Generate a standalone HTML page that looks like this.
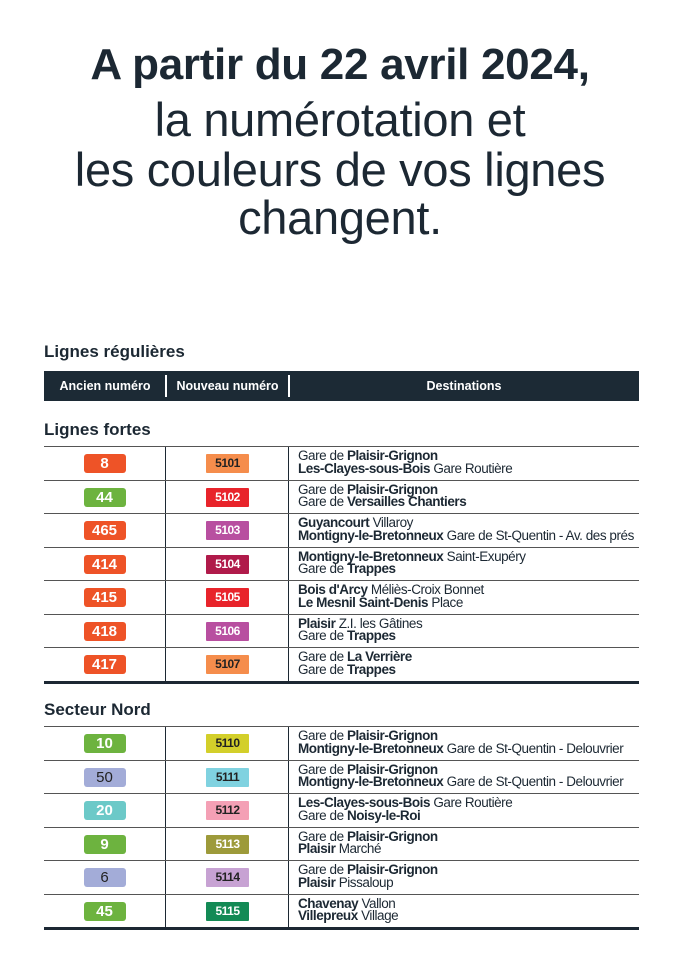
<!DOCTYPE html>
<html><head><meta charset="utf-8"><style>
*{margin:0;padding:0;box-sizing:border-box}
body{width:680px;height:968px;background:#fff;font-family:"Liberation Sans",sans-serif;color:#1c2833;position:relative;overflow:hidden}
.t{position:absolute;left:0;width:680px;text-align:center;font-size:47px;line-height:50px;letter-spacing:-0.3px}
.h{position:absolute;left:44px;font-weight:bold;font-size:17px}
.hdr{position:absolute;left:44px;top:371px;width:595px;height:30px;background:#1c2a35;color:#fff;font-weight:bold;font-size:12.5px}
.hdr div{position:absolute;top:0;height:30px;line-height:30px;text-align:center}
.hdr .s{position:absolute;top:4px;width:1.5px;height:22px;background:#fff}
.tb{position:absolute;left:44px;width:595px}
.r{position:relative;height:33.5px;border-top:1.5px solid #555}
.r .c1,.r .c2{position:absolute;top:0;height:100%;border-right:1.5px solid #1c2833}
.c1{left:0;width:122px}.c2{left:122px;width:123px}
.b{position:absolute;top:7px;left:50%;margin-left:-21px;width:42px;height:19px;border-radius:3px;color:#fff;font-weight:bold;font-size:15px;line-height:19px;text-align:center}
.n{width:43px;margin-left:-21px;border-radius:1px;font-size:12px;color:#222;letter-spacing:-0.5px}
.d{position:absolute;left:254px;top:3px;font-size:13.5px;line-height:12.5px;white-space:nowrap;letter-spacing:-0.45px}
.end{border-bottom:3px solid #1c2833}
</style></head><body>
<div class="t" style="top:40px;font-weight:bold;font-size:44px">A partir du 22 avril 2024,</div>
<div class="t" style="top:95px">la numérotation et</div>
<div class="t" style="top:145px">les couleurs de vos lignes</div>
<div class="t" style="top:193px">changent.</div>
<div class="h" style="top:342px">Lignes régulières</div>
<div class="hdr"><div style="left:0;width:122px">Ancien numéro</div><span class="s" style="left:121px"></span><div style="left:122px;width:123px">Nouveau numéro</div><span class="s" style="left:244px"></span><div style="left:245px;width:350px">Destinations</div></div>
<div class="h" style="top:420px">Lignes fortes</div>
<div class="tb end" style="top:446px">
<div class="r"><div class="c1"><div class="b" style="background:#ee5327">8</div></div><div class="c2"><div class="b n" style="background:#f58d4c">5101</div></div><div class="d">Gare de <b>Plaisir-Grignon</b><br><b>Les-Clayes-sous-Bois</b> Gare Routière</div></div>
<div class="r"><div class="c1"><div class="b" style="background:#6db33f">44</div></div><div class="c2"><div class="b n" style="background:#e8242b;color:#fff">5102</div></div><div class="d">Gare de <b>Plaisir-Grignon</b><br>Gare de <b>Versailles Chantiers</b></div></div>
<div class="r"><div class="c1"><div class="b" style="background:#ee5327">465</div></div><div class="c2"><div class="b n" style="background:#b84fa0;color:#fff">5103</div></div><div class="d"><b>Guyancourt</b> Villaroy<br><b>Montigny-le-Bretonneux</b> Gare de St-Quentin - Av. des prés</div></div>
<div class="r"><div class="c1"><div class="b" style="background:#ee5327">414</div></div><div class="c2"><div class="b n" style="background:#b01a4a;color:#fff">5104</div></div><div class="d"><b>Montigny-le-Bretonneux</b> Saint-Exupéry<br>Gare de <b>Trappes</b></div></div>
<div class="r"><div class="c1"><div class="b" style="background:#ee5327">415</div></div><div class="c2"><div class="b n" style="background:#e8242b;color:#fff">5105</div></div><div class="d"><b>Bois d'Arcy</b> Méliès-Croix Bonnet<br><b>Le Mesnil Saint-Denis</b> Place</div></div>
<div class="r"><div class="c1"><div class="b" style="background:#ee5327">418</div></div><div class="c2"><div class="b n" style="background:#b84fa0;color:#fff">5106</div></div><div class="d"><b>Plaisir</b> Z.I. les Gâtines<br>Gare de <b>Trappes</b></div></div>
<div class="r"><div class="c1"><div class="b" style="background:#ee5327">417</div></div><div class="c2"><div class="b n" style="background:#f58d4c">5107</div></div><div class="d">Gare de <b>La Verrière</b><br>Gare de <b>Trappes</b></div></div>
</div>
<div class="h" style="top:700px">Secteur Nord</div>
<div class="tb end" style="top:726px">
<div class="r"><div class="c1"><div class="b" style="background:#6db33f">10</div></div><div class="c2"><div class="b n" style="background:#d3cf2a">5110</div></div><div class="d">Gare de <b>Plaisir-Grignon</b><br><b>Montigny-le-Bretonneux</b> Gare de St-Quentin - Delouvrier</div></div>
<div class="r"><div class="c1"><div class="b" style="background:#a3acd8;color:#222;font-weight:normal">50</div></div><div class="c2"><div class="b n" style="background:#80d2e0">5111</div></div><div class="d">Gare de <b>Plaisir-Grignon</b><br><b>Montigny-le-Bretonneux</b> Gare de St-Quentin - Delouvrier</div></div>
<div class="r"><div class="c1"><div class="b" style="background:#6cc9c8">20</div></div><div class="c2"><div class="b n" style="background:#f4a0b5">5112</div></div><div class="d"><b>Les-Clayes-sous-Bois</b> Gare Routière<br>Gare de <b>Noisy-le-Roi</b></div></div>
<div class="r"><div class="c1"><div class="b" style="background:#6db33f">9</div></div><div class="c2"><div class="b n" style="background:#9d9a3a;color:#fff">5113</div></div><div class="d">Gare de <b>Plaisir-Grignon</b><br><b>Plaisir</b> Marché</div></div>
<div class="r"><div class="c1"><div class="b" style="background:#a3acd8;color:#222;font-weight:normal">6</div></div><div class="c2"><div class="b n" style="background:#c7a2d3">5114</div></div><div class="d">Gare de <b>Plaisir-Grignon</b><br><b>Plaisir</b> Pissaloup</div></div>
<div class="r"><div class="c1"><div class="b" style="background:#6db33f">45</div></div><div class="c2"><div class="b n" style="background:#138a55;color:#fff">5115</div></div><div class="d"><b>Chavenay</b> Vallon<br><b>Villepreux</b> Village</div></div>
</div>
</body></html>
